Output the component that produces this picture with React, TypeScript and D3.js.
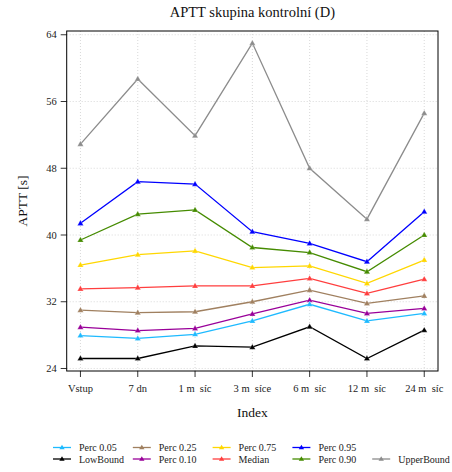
import React from "react";
import * as d3 from "d3";

const categories = ["Vstup", "7 dn", "1 m\u00a0\u00a0síc", "3 m\u00a0\u00a0síce", "6 m\u00a0\u00a0síc", "12 m\u00a0\u00a0síc", "24 m\u00a0\u00a0síc"];
const yTicks = [24, 32, 40, 48, 56, 64];

const lowBound = [25.2, 25.2, 26.7, 26.55, 29.0, 25.2, 28.6];
const perc05 = [27.95, 27.6, 28.1, 29.7, 31.7, 29.7, 30.6];
const perc10 = [28.95, 28.55, 28.8, 30.55, 32.2, 30.6, 31.2];
const perc25 = [31.0, 30.7, 30.8, 32.0, 33.4, 31.8, 32.7];
const median = [33.55, 33.7, 33.9, 33.9, 34.8, 33.0, 34.7];
const perc75 = [36.4, 37.65, 38.1, 36.1, 36.3, 34.2, 37.0];
const perc90 = [39.4, 42.5, 43.0, 38.5, 37.9, 35.6, 40.0];
const perc95 = [41.4, 46.4, 46.1, 40.4, 39.0, 36.8, 42.8];
const upperBound = [50.9, 58.7, 51.9, 63.0, 48.0, 41.9, 54.6];

const seriesNames = ["UpperBound", "Perc 0.95", "Perc 0.90", "Perc 0.75", "Median", "Perc 0.25", "Perc 0.10", "Perc 0.05", "LowBound"];
const seriesColors = ["#8c8c8c", "#0000ff", "#458b00", "#ffd700", "#ff3e3e", "#a08060", "#990099", "#1ebaff", "#000000"];
const seriesValues = [upperBound, perc95, perc90, perc75, median, perc25, perc10, perc05, lowBound];

const legendRow1 = ["Perc 0.05", "Perc 0.25", "Perc 0.75", "Perc 0.95"];
const legendRow2 = ["LowBound", "Perc 0.10", "Median", "Perc 0.90", "UpperBound"];

export default function App() {
  const W = 452, H = 472;
  const left = 66.7, right = 438, top = 31, bottom = 371;
  const x = d3.scaleLinear().domain([0.76, 7.24]).range([left, right]);
  const y = d3.scaleLinear().domain([23.7, 64.45]).range([bottom, top]);
  const line = d3.line<number>().x((_, i) => x(i + 1)).y((d) => y(d));
  const font = "Liberation Serif, Times New Roman, DejaVu Serif, serif";
  const tri = (cx: number, cy: number, s = 3.2) =>
    `M${cx},${cy - s}L${cx + s * 0.95},${cy + s * 0.65}L${cx - s * 0.95},${cy + s * 0.65}Z`;

  const legendItem = (name: string, row: number, col: number) => {
    const idx = seriesNames.indexOf(name);
    const color = seriesColors[idx];
    const lx = 53 + col * 79.8;
    const ly = row === 0 ? 447.5 : 459;
    return (
      <g key={name}>
        <line x1={lx} x2={lx + 18} y1={ly} y2={ly} stroke={color} strokeWidth={1.3} />
        <path d={tri(lx + 9, ly, 2.8)} fill={color} />
        <text x={lx + 26} y={ly + 3.5} fontSize={10} fontFamily={font} fill="#222">{name}</text>
      </g>
    );
  };

  return (
    <svg width={W} height={H} style={{ position: "absolute", left: 0, top: 0, background: "#fff" }}>
      <text x={(left + right) / 2} y={17} textAnchor="middle" fontSize={14.5} fontFamily={font} fill="#111">
        APTT skupina kontrolní (D)
      </text>
      {yTicks.map((t) => (
        <line key={"gy" + t} x1={left} x2={right} y1={y(t)} y2={y(t)} stroke="#cfcfcf" strokeWidth={0.8} strokeDasharray="1,2" />
      ))}
      {categories.map((c, i) => (
        <line key={"gx" + i} x1={x(i + 1)} x2={x(i + 1)} y1={top} y2={bottom} stroke="#cfcfcf" strokeWidth={0.8} strokeDasharray="1,2" />
      ))}
      {seriesValues.map((vals, si) => (
        <g key={seriesNames[si]}>
          <path d={line(vals) || ""} fill="none" stroke={seriesColors[si]} strokeWidth={1.3} />
          {vals.map((v, i) => (
            <path key={i} d={tri(x(i + 1), y(v))} fill={seriesColors[si]} stroke="#fff" strokeWidth={0.4} strokeOpacity={0.6} />
          ))}
        </g>
      ))}
      <rect x={left} y={top} width={right - left} height={bottom - top} fill="none" stroke="#000" strokeWidth={1} />
      {yTicks.map((t) => (
        <g key={"yt" + t}>
          <line x1={left - 6} x2={left} y1={y(t)} y2={y(t)} stroke="#000" strokeWidth={0.8} />
          <text x={left - 10} y={y(t) + 3.5} textAnchor="end" fontSize={10.5} fontFamily={font} fill="#222">{t}</text>
        </g>
      ))}
      {categories.map((c, i) => (
        <g key={"xt" + i}>
          <line x1={x(i + 1)} x2={x(i + 1)} y1={bottom} y2={bottom + 6} stroke="#000" strokeWidth={0.8} />
          <text x={x(i + 1)} y={392} textAnchor="middle" fontSize={10.5} fontFamily={font} fill="#222">{c}</text>
        </g>
      ))}
      <text x={(left + right) / 2} y={417} textAnchor="middle" fontSize={13.5} fontFamily={font} fill="#111">Index</text>
      <text transform={`translate(27, ${(top + bottom) / 2}) rotate(-90)`} textAnchor="middle" fontSize={13.5} fontFamily={font} fill="#111">APTT [s]</text>
      {legendRow1.map((n, i) => legendItem(n, 0, i))}
      {legendRow2.map((n, i) => legendItem(n, 1, i))}
    </svg>
  );
}
